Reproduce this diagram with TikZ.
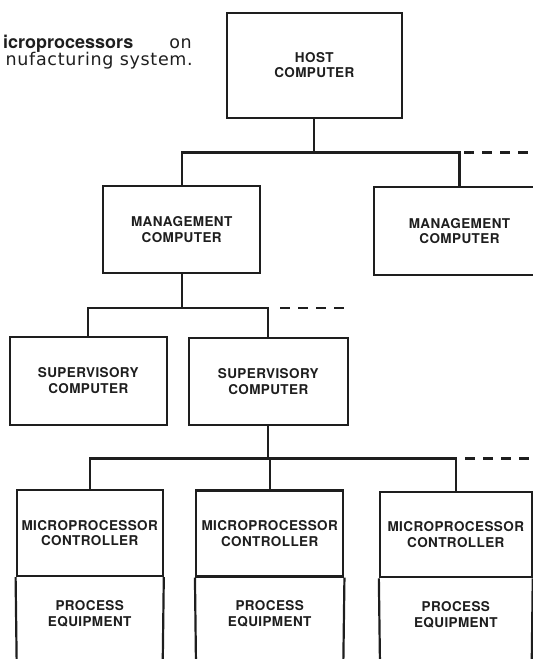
\documentclass[tikz,border=0pt]{standalone}
\usepackage{fontspec}
\setmainfont{TeX Gyre Heros}
\newfontfamily\boxfont[LetterSpace=3]{TeX Gyre Heros}
\newfontfamily\capfont[LetterSpace=4]{DejaVu Sans}
\newfontfamily\capbfont{TeX Gyre Heros}
\definecolor{ink}{HTML}{1E1E1E}
\tikzset{
  box/.style={draw=ink, line width=2.2pt, rectangle, inner sep=0pt, align=center,
    text=ink, font=\boxfont\bfseries\fontsize{13.5}{15.7}\selectfont},
  lbl/.style={inner sep=0pt, align=center, text=ink,
    font=\boxfont\bfseries\fontsize{13.5}{15.7}\selectfont},
  wire/.style={draw=ink, line width=2.2pt},
  dashwire/.style={draw=ink, line width=2.2pt, dash pattern=on 10pt off 8pt},
  captxt/.style={inner sep=0pt, anchor=base east, text=ink}
}
\begin{document}
\begin{tikzpicture}[x=1pt, y=-1pt, line join=miter]
\useasboundingbox (0,0) rectangle (533,659);
\begin{scope}
\clip (0,0) rectangle (533,659);
% caption (cropped)
\node[captxt] (cap1) at (192,48.3) {{\fontsize{18}{19}\selectfont\capbfont\bfseries icroprocessors}\hspace{36pt}{\fontsize{17.5}{19}\selectfont\capfont on}};
\node[captxt] (cap2) at (193,65.7) {\fontsize{17.5}{19}\selectfont\capfont nufacturing system.};

% boxes
\node[box, minimum width=175.3pt, minimum height=105pt] (host) at (314.3,65.2) {HOST\\COMPUTER};
\node[box, minimum width=156.7pt, minimum height=87pt] (mg1) at (181.7,229.5) {MANAGEMENT\\COMPUTER};
\node[box, minimum width=171pt, minimum height=88pt] (mg2) at (459.5,231) {MANAGEMENT\\COMPUTER};
\node[box, minimum width=156.7pt, minimum height=88.3pt] (sup1) at (88.3,380.8) {SUPERVISORY\\COMPUTER};
\node[box, minimum width=158.7pt, minimum height=87.3pt] (sup2) at (268.3,381.3) {SUPERVISORY\\COMPUTER};
\node[box, minimum width=146pt, minimum height=86pt] (mc1) at (89.7,533) {MICROPROCESSOR\\CONTROLLER};
\node[box, minimum width=147.3pt, minimum height=86pt] (mc2) at (269.7,533.5) {MICROPROCESSOR\\CONTROLLER};
\node[box, minimum width=151.7pt, minimum height=85.6pt] (mc3) at (455.8,534.5) {MICROPROCESSOR\\CONTROLLER};
\node[lbl] (pe1) at (89.7,613.5) {PROCESS\\EQUIPMENT};
\node[lbl] (pe2) at (269.7,613.5) {PROCESS\\EQUIPMENT};
\node[lbl] (pe3) at (455.8,614.5) {PROCESS\\EQUIPMENT};

% lower (process equipment) boxes, open at the bottom
\coordinate (pe1l) at (16.7,665); \coordinate (pe1r) at (162.7,665);
\coordinate (pe2l) at (196,665);  \coordinate (pe2r) at (343.3,665);
\coordinate (pe3l) at (380,665);  \coordinate (pe3r) at (531.7,665);
\draw[wire] (mc1.south west) -- (pe1l) (mc1.south east) -- (pe1r);
\draw[wire] (mc2.south west) -- (pe2l) (mc2.south east) -- (pe2r);
\draw[wire] (mc3.south west) -- (pe3l) (mc3.south east) -- (pe3r);

% level 1 tree
\coordinate (j1) at (314.3,152.5);
\coordinate (d1s) at (464,152.5);
\coordinate (d1e) at (540,152.5);
\draw[wire] (host.south) -- (j1);
\draw[wire] (mg1.north) |- (j1) -| (mg2.north);
\draw[dashwire] (d1s) -- (d1e);

% level 2 tree
\coordinate (j2) at (181.7,308);
\coordinate (d2s) at (280,308);
\coordinate (d2e) at (348.3,308);
\draw[wire] (mg1.south) -- (j2);
\draw[wire] (sup1.north) |- (j2) -| (sup2.north);
\draw[dashwire] (d2s) -- (d2e);

% level 3 tree
\coordinate (j3) at (268.3,458.5);
\coordinate (d3s) at (465,458.5);
\coordinate (d3e) at (540,458.5);
\draw[wire] (sup2.south) -- (j3);
\draw[wire] (mc1.north) |- (j3) -| (mc3.north);
\draw[wire] (mc2.north) -- (mc2.north |- j3);
\draw[dashwire] (d3s) -- (d3e);
\end{scope}
\end{tikzpicture}
\end{document}
